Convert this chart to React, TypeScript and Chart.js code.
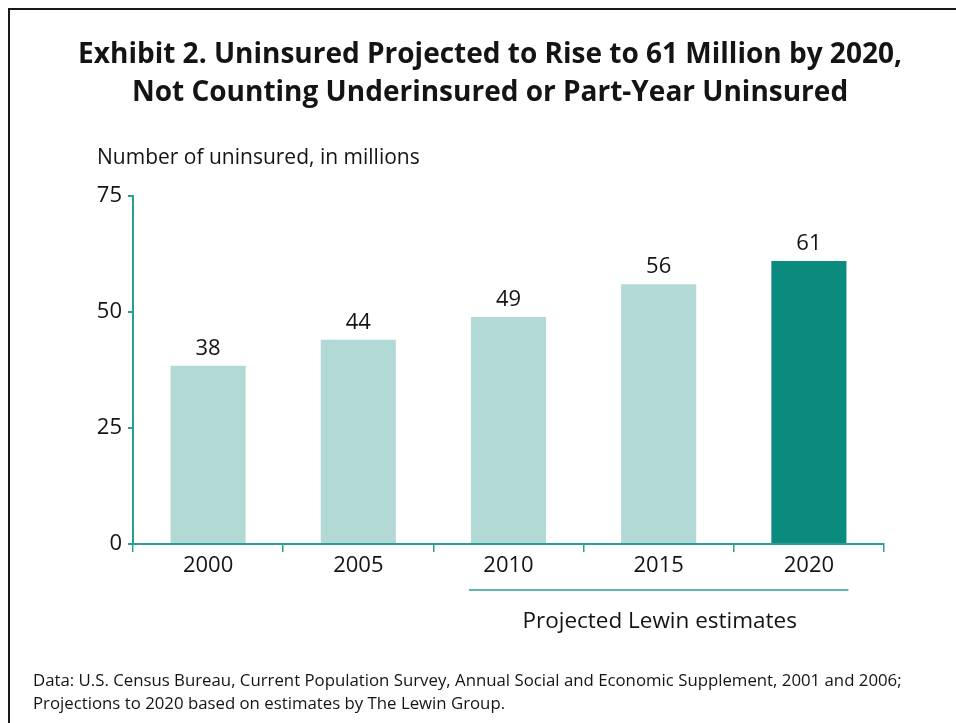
import React, { useEffect, useRef } from "react";
import { Chart, registerables } from "chart.js";

Chart.register(...registerables);

// ---- data ----
const years = ["2000", "2005", "2010", "2015", "2020"];
const uninsuredMillions = [38.4, 44.0, 48.9, 56.0, 61.0];
const barColors = ["#b3d9d6", "#b3d9d6", "#b3d9d6", "#b3d9d6", "#0b8b7d"];
const yMin = 0;
const yMax = 75;
const yStep = 25;
const titleLines = [
  "Exhibit 2. Uninsured Projected to Rise to 61 Million by 2020,",
  "Not Counting Underinsured or Part-Year Uninsured",
];
const yAxisCaption = "Number of uninsured, in millions";
const projectionCaption = "Projected Lewin estimates";
const projectionFirstIndex = 2;
const projectionLastIndex = 4;
const sourceLines = [
  "Data: U.S. Census Bureau, Current Population Survey, Annual Social and Economic Supplement, 2001 and 2006;",
  "Projections to 2020 based on estimates by The Lewin Group.",
];

const FONT = "'Open Sans', 'Noto Sans', sans-serif";
const TEAL = "#2a9e90";
const TEXT = "#141414";

const annotations = {
  id: "annotations",
  afterDraw(chart: any) {
    const ctx = chart.ctx;
    const meta = chart.getDatasetMeta(0);
    ctx.save();
    ctx.fillStyle = TEXT;
    ctx.textBaseline = "alphabetic";

    // title
    ctx.textAlign = "center";
    ctx.font = `bold 28px ${FONT}`;
    ctx.fillText(titleLines[0], 490, 63);
    ctx.fillText(titleLines[1], 490, 101);

    // y caption
    ctx.textAlign = "left";
    ctx.font = `21px ${FONT}`;
    ctx.fillText(yAxisCaption, 97, 164);

    // value labels
    ctx.textAlign = "center";
    ctx.font = `22px ${FONT}`;
    meta.data.forEach((bar: any, i: number) => {
      ctx.fillText(String(Math.round(uninsuredMillions[i])), bar.x, bar.y - 11);
    });

    // projection bracket line
    const b1 = meta.data[projectionFirstIndex];
    const b2 = meta.data[projectionLastIndex];
    const left = b1.x - b1.width / 2 - 2;
    const right = b2.x + b2.width / 2 + 2;
    ctx.strokeStyle = TEAL;
    ctx.lineWidth = 1.5;
    ctx.beginPath();
    ctx.moveTo(left, 590);
    ctx.lineTo(right, 590);
    ctx.stroke();
    ctx.font = `22.5px ${FONT}`;
    ctx.fillText(projectionCaption, (left + right) / 2 + 1, 628);

    // source
    ctx.textAlign = "left";
    ctx.font = `16.8px ${FONT}`;
    ctx.fillText(sourceLines[0], 33, 686);
    ctx.fillText(sourceLines[1], 33, 709);
    ctx.restore();
  },
};

export default function App() {
  const ref = useRef<HTMLCanvasElement>(null);
  useEffect(() => {
    if (!ref.current) return;
    const chart = new Chart(ref.current, {
      type: "bar",
      data: {
        labels: years,
        datasets: [
          {
            data: uninsuredMillions,
            backgroundColor: barColors,
            borderWidth: 0,
            barPercentage: 0.5,
            categoryPercentage: 1,
          },
        ],
      },
      options: {
        animation: false,
        responsive: false,
        maintainAspectRatio: false,
        layout: { padding: { top: 196, right: 72, bottom: 139, left: 0 } },
        plugins: { legend: { display: false }, tooltip: { enabled: false }, title: { display: false } },
        scales: {
          x: {
            afterFit: (s: any) => {
              s.height = 40;
            },
            offset: true,
            grid: {
              offset: true,
              drawOnChartArea: false,
              drawTicks: true,
              tickLength: 8,
              color: TEAL,
              lineWidth: 1.5,
            },
            border: { display: true, color: TEAL, width: 2 },
            ticks: { color: TEXT, font: { family: FONT, size: 22 }, padding: 1, maxRotation: 0 },
          },
          y: {
            min: yMin,
            max: yMax,
            afterFit: (s: any) => {
              s.width = 133;
            },
            grid: {
              drawOnChartArea: false,
              drawTicks: true,
              tickLength: 5,
              color: TEAL,
              lineWidth: 2,
            },
            border: { display: true, color: TEAL, width: 2 },
            ticks: { stepSize: yStep, color: TEXT, font: { family: FONT, size: 22 }, padding: 6 },
          },
        },
      },
      plugins: [annotations],
    });
    return () => chart.destroy();
  }, []);

  return (
    <div>
      <div
        style={{
          position: "fixed",
          left: 8,
          top: 8,
          width: 946,
          height: 713,
          borderTop: "2px solid #1a1a1a",
          borderLeft: "2px solid #1a1a1a",
          background: "#fff",
        }}
      />
      <canvas
        ref={ref}
        width={956}
        height={723}
        style={{ position: "fixed", left: 0, top: 0, width: 956, height: 723 }}
      />
    </div>
  );
}
